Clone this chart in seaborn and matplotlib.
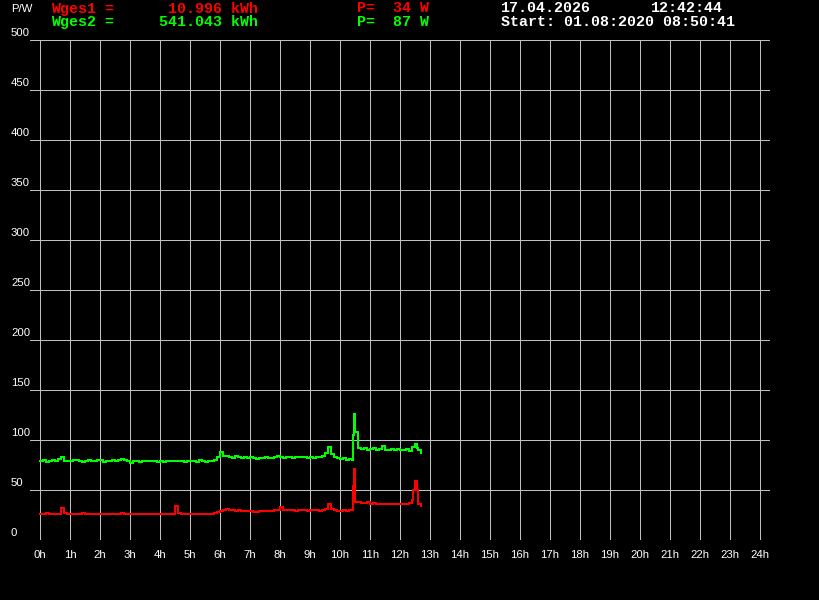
import numpy as np
import pandas as pd
import matplotlib
matplotlib.use("Agg")
import matplotlib.pyplot as plt
import matplotlib.transforms as mtransforms
import seaborn as sns

# ---- data ----
hours = [round(0.1 * i, 1) for i in range(128)]  # 0.0 .. 12.7 h

w1 = [26, 26, 27, 26, 26, 26, 26, 32, 27, 26,
      26, 26, 26, 26, 27, 26, 26, 26, 26, 26,
      26, 26, 26, 26, 26, 26, 26, 27, 26, 26,
      26, 26, 26, 26, 26, 26, 26, 26, 26, 26,
      26, 26, 26, 26, 26, 34, 27, 26, 26, 26,
      26, 26, 26, 26, 26, 26, 26, 26, 27, 28,
      29, 30, 31, 30, 30, 29, 30, 29, 29, 29,
      29, 28, 28, 29, 29, 29, 29, 29, 30, 30,
      33, 30, 30, 30, 30, 29, 30, 30, 30, 29,
      30, 30, 30, 29, 30, 31, 36, 31, 30, 29,
      29, 30, 29, 30, 30, 38, 38, 37, 37, 38,
      36, 37, 36, 36, 36, 36, 36, 36, 36, 36,
      36, 36, 36, 37, 40, 59, 36, 34]
w2 = [79, 80, 78, 79, 80, 79, 81, 83, 79, 79,
      79, 80, 80, 79, 78, 79, 80, 79, 79, 80,
      80, 78, 79, 79, 80, 79, 80, 81, 80, 79,
      77, 79, 79, 78, 79, 79, 79, 79, 79, 78,
      79, 78, 79, 79, 79, 79, 79, 79, 78, 79,
      79, 79, 78, 80, 79, 78, 79, 79, 80, 83,
      88, 84, 84, 83, 82, 84, 83, 82, 83, 82,
      83, 82, 81, 82, 82, 83, 82, 82, 83, 84,
      83, 82, 83, 83, 82, 83, 83, 83, 83, 82,
      83, 82, 83, 83, 84, 87, 93, 86, 83, 82,
      81, 82, 80, 81, 80, 108, 92, 91, 92, 90,
      91, 92, 90, 91, 94, 90, 90, 91, 90, 91,
      90, 90, 91, 89, 93, 96, 90, 87]

# short spikes between grid samples
spike_hours = [10.43, 10.47, 12.45, 12.55]
spike_w1 = [54, 71, 50, 50]
spike_w2 = [105, 126, 93, 92]

y_ticks = [0, 50, 100, 150, 200, 250, 300, 350, 400, 450, 500]
x_ticks = list(range(25))
x_labels = [f"{h}h" for h in x_ticks]

df1 = pd.concat([pd.DataFrame({"h": hours, "w": w1}),
                 pd.DataFrame({"h": spike_hours, "w": spike_w1})]).sort_values("h")
df2 = pd.concat([pd.DataFrame({"h": hours, "w": w2}),
                 pd.DataFrame({"h": spike_hours, "w": spike_w2})]).sort_values("h")

# ---- figure ----
sns.set_style("dark", {"axes.facecolor": "black", "figure.facecolor": "black"})
plt.rcParams["font.family"] = ["Liberation Sans", "DejaVu Sans"]

W, H, DPI = 820, 600, 100
fig = plt.figure(figsize=(W / DPI, H / DPI), dpi=DPI)
fig.patch.set_facecolor("black")
ax = fig.add_axes([30 / W, 1 - 540 / H, 740 / W, 500 / H])
ax.set_facecolor("black")

sns.lineplot(data=df2, x="h", y="w", ax=ax, color="#00ff00", lw=1.44,
             drawstyle="steps-post", estimator=None, sort=False, antialiased=False)
sns.lineplot(data=df1, x="h", y="w", ax=ax, color="#ff0000", lw=1.44,
             drawstyle="steps-post", estimator=None, sort=False, antialiased=False)

ax.set_xlim(-1 / 3, 24 + 1 / 3)
ax.set_ylim(0, 500)
for s in ax.spines.values():
    s.set_visible(False)

ax.set_xticks(x_ticks)
ax.set_xticklabels(x_labels)
ax.set_yticks(y_ticks)
ax.set_yticklabels([str(v) for v in y_ticks])
ax.grid(True, color="#c0c0c0", lw=0.72, antialiased=False)
ax.set_axisbelow(True)
ax.tick_params(axis="x", length=0, pad=7.0, labelsize=8.2, labelcolor="white")
ax.tick_params(axis="y", length=0, pad=13.7, labelsize=8.2, labelcolor="white")
for lab in ax.get_yticklabels():
    lab.set_horizontalalignment("left")
    lab.set_transform(lab.get_transform() +
                      mtransforms.ScaledTranslation(0, 8 / DPI, fig.dpi_scale_trans))
ax.set_xlabel("")
ax.set_ylabel("")

def ftext(x, y, s, color, **kw):
    fig.text(x / W, 1 - y / H, s, color=color, **kw)

ftext(11, 12, "P/W", "white", fontsize=8.2, va="baseline")

mono = dict(family=["Liberation Mono", "DejaVu Sans Mono"], fontweight="bold",
            fontsize=10.8, va="baseline")
ftext(51.5, 12.5, "Wges1 =      10.996 kWh", "#ff0000", **mono)
ftext(51.5, 26, "Wges2 =     541.043 kWh", "#00ff00", **mono)
ftext(357, 12.5, "P=  34 W", "#ff0000", **mono)
ftext(357, 26, "P=  87 W", "#00ff00", **mono)
ftext(501, 12.5, "17.04.2026", "white", **mono)
ftext(651, 12.5, "12:42:44", "white", **mono)
ftext(501, 26, "Start: 01.08:2020 08:50:41", "white", **mono)

fig.savefig("out.png", dpi=DPI, facecolor="black")
